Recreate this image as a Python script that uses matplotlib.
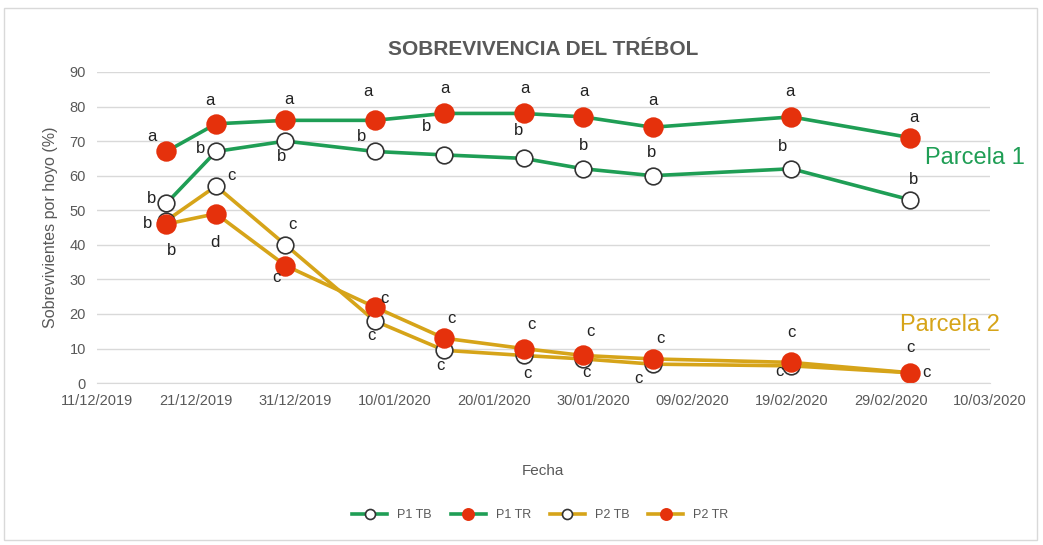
import pandas as pd
import matplotlib
matplotlib.use("Agg")
import matplotlib.pyplot as plt
import matplotlib.dates as mdates
from matplotlib.patches import Rectangle

plt.rcParams['font.family'] = ['Liberation Sans Narrow', 'Liberation Sans', 'DejaVu Sans']

# Datos
fechas = pd.to_datetime(["2019-12-18", "2019-12-23", "2019-12-30", "2020-01-08",
                         "2020-01-15", "2020-01-23", "2020-01-29", "2020-02-05",
                         "2020-02-19", "2020-03-02"])
p1_tb = [52, 67, 70, 67, 66, 65, 62, 60, 62, 53]
p1_tr = [67, 75, 76, 76, 78, 78, 77, 74, 77, 71]
p2_tb = [47, 57, 40, 18, 9.5, 8, 7, 5.5, 5, 3]
p2_tr = [46, 49, 34, 22, 13, 10, 8, 7, 6, 3]

letras_p1_tb = ["b", "b", "b", "b", "b", "b", "b", "b", "b", "b"]
letras_p1_tr = ["a", "a", "a", "a", "a", "a", "a", "a", "a", "a"]
letras_p2_tb = ["b", "c", "c", "c", "c", "c", "c", "c", "c", "c"]
letras_p2_tr = ["b", "d", "c", "c", "c", "c", "c", "c", "c", "c"]

ticks_x = pd.date_range("2019-12-11", "2020-03-10", freq="10D")

# Desplazamientos de las letras (pixeles)
off_p1_tb = [(-15, 5), (-15, 3), (-4, -15), (-13, 15), (-18, 28), (-5, 28), (0, 23), (-1, 23), (-9, 22), (3, 20)]
off_p1_tr = [(-15, 15), (-6, 23), (3, 21), (-7, 29), (1, 25), (1, 25), (1, 25), (0, 27), (-1, 25), (3, 20)]
off_p2_tb = [(-19, -3), (15, 11), (7, 20), (-3, -15), (-4, -15), (4, -18), (3, -14), (-14, -14), (-12, -6), (16, 0)]
off_p2_tr = [(5, -26), (-1, -29), (-9, -12), (10, 9), (7, 20), (8, 24), (7, 24), (8, 20), (0, 30), (0, 25)]

verde = "#1f9e55"
amarillo = "#d6a419"
rojo = "#e5310c"

fig = plt.figure(figsize=(10.43, 5.45), dpi=100)
fig.patches.append(Rectangle((0.004, 0.01), 0.99, 0.975, transform=fig.transFigure,
                             fill=False, edgecolor="#d9d9d9", linewidth=1))
ax = fig.add_axes([0.093, 0.297, 0.856, 0.571])

series = [
    (p1_tb, "P1 TB", verde, "white", "#333333", 12, letras_p1_tb, off_p1_tb),
    (p1_tr, "P1 TR", verde, rojo, rojo, 13.5, letras_p1_tr, off_p1_tr),
    (p2_tb, "P2 TB", amarillo, "white", "#333333", 12, letras_p2_tb, off_p2_tb),
    (p2_tr, "P2 TR", amarillo, rojo, rojo, 13.5, letras_p2_tr, off_p2_tr),
]
for vals, nombre, col, fc, ec, ms, letras, offs in series:
    ax.plot(fechas, vals, color=col, linewidth=2.6, marker="o", markersize=ms,
            markerfacecolor=fc, markeredgecolor=ec, markeredgewidth=1.2, label=nombre)
    for f, v, l, o in zip(fechas, vals, letras, offs):
        ax.annotate(l, (f, v), xytext=o, textcoords="offset pixels", ha="center",
                    va="center", fontsize=12, color="#222222")

ax.set_xlim(ticks_x[0], ticks_x[-1])
ax.set_ylim(0, 90)
ax.set_yticks(range(0, 91, 10))
ax.set_xticks(ticks_x)
ax.xaxis.set_major_formatter(mdates.DateFormatter("%d/%m/%Y"))
ax.grid(axis="y", color="#d9d9d9", linewidth=1)
ax.set_axisbelow(True)
for s in ["top", "right", "left"]:
    ax.spines[s].set_visible(False)
ax.spines["bottom"].set_color("#d9d9d9")
ax.tick_params(length=0, labelsize=10.5, colors="#595959", pad=8)

ax.set_title("SOBREVIVENCIA DEL TRÉBOL", fontsize=15, fontweight="bold", color="#595959", pad=12)
ax.set_ylabel("Sobrevivientes por hoyo (%)", fontsize=11.5, color="#595959", labelpad=8)
ax.set_xlabel("Fecha", fontsize=11, color="#595959", labelpad=40)

ax.text(0.983, 0.723, "Parcela 1", transform=ax.transAxes, fontsize=17, color=verde,
        ha="center", va="center", clip_on=False)
ax.text(0.955, 0.186, "Parcela 2", transform=ax.transAxes, fontsize=17, color=amarillo,
        ha="center", va="center", clip_on=False)

fig.legend(loc="center", bbox_to_anchor=(0.518, 0.055), ncol=4, frameon=False,
           fontsize=9, markerscale=0.6, handlelength=2.8, labelcolor="#595959",
           columnspacing=1.5)

fig.savefig("out.png", dpi=100)
